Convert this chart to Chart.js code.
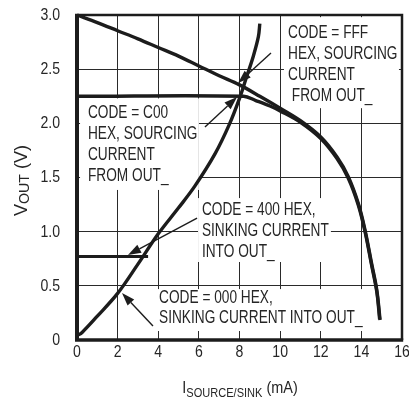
<!DOCTYPE html>
<html>
<head>
<meta charset="utf-8">
<script src="https://cdn.jsdelivr.net/npm/chart.js@4.4.1/dist/chart.umd.min.js"></script>
<style>
  html, body { margin: 0; padding: 0; background: #fff; }
  #wrap { width: 409px; height: 401px; }
</style>
</head>
<body>
<div id="wrap"><canvas id="chart" width="409" height="401"></canvas></div>
<script>
// --- data (I in mA, VOUT in V) ---
const fffCurrent = [0, 1, 2, 3, 4, 5, 6, 7, 8, 9, 10, 11, 12, 12.8, 13.35, 13.85, 14.18, 14.5, 14.76, 14.92];
const fffVout    = [3.0, 2.93, 2.855, 2.78, 2.70, 2.62, 2.53, 2.44, 2.355, 2.25, 2.14, 2.025, 1.875, 1.69, 1.51, 1.26, 1.015, 0.71, 0.46, 0.185];

const c00Current = [0, 8.2, 8.8, 9.5, 10, 11, 12, 12.8, 13.35, 13.85, 14.18, 14.5, 14.76, 14.9];
const c00Vout    = [2.25, 2.25, 2.21, 2.16, 2.115, 2.01, 1.86, 1.675, 1.495, 1.245, 1.0, 0.695, 0.445, 0.19];

const s000Current = [0, 0.25, 1, 2, 3, 4, 5, 5.8, 6.8, 7.5, 8.0, 8.35, 8.68, 8.93, 9.0];
const s000Vout    = [0.04, 0.07, 0.22, 0.43, 0.70, 0.98, 1.22, 1.42, 1.72, 1.99, 2.23, 2.43, 2.62, 2.8, 2.92];

const s400Current = [0, 3.5];
const s400Vout    = [0.77, 0.77];

const xTickLabels = ['0', '2', '4', '6', '8', '10', '12', '14', '16'];
const yTickLabels = ['0', '0.5', '1.0', '1.5', '2.0', '2.5', '3.0'];

// annotation texts
const c00Note  = ['CODE = C00', 'HEX, SOURCING', 'CURRENT', 'FROM OUT_'];
const fffNote  = ['CODE = FFF', 'HEX, SOURCING', 'CURRENT', ' FROM OUT_'];
const s400Note = ['CODE = 400 HEX,', 'SINKING CURRENT', 'INTO OUT_'];
const s000Note = ['CODE = 000 HEX,', 'SINKING CURRENT INTO OUT_'];

const FONT = "'Liberation Sans', Arial, sans-serif";
const INK = '#262626';
const LINE = '#1c1c1c';

const toPoints = (xs, ys) => xs.map((v, i) => ({ x: v, y: ys[i] }));

// boxes / arrows in data units: box [xmin, xmax, ytop, ybottom]
const notes = [
  { lines: c00Note,  at: [0.54, 2.095], lh: 21, box: [0.15, 6.0, 2.23, 1.385] },
  { lines: fffNote,  at: [10.39, 2.834], lh: 21, box: [10.19, 15.85, 2.98, 2.14] },
  { lines: s400Note, at: [6.15, 1.2],   lh: 21, box: [5.96, 12.5, 1.31, 0.72] },
  { lines: s000Note, at: [4.04, 0.388], lh: 20, box: [3.69, 14.13, 0.47, 0.083] }
];
const arrows = [
  { from: [6.3, 1.966], to: [7.88, 2.243] },
  { from: [9.55, 2.65], to: [7.93, 2.373] },
  { from: [5.91, 1.126], to: [2.51, 0.785] },
  { from: [3.74, 0.129], to: [2.215, 0.434] }
];

// text squeezed sideways to get the condensed look
function squeezed(ctx, str, x, y, size, sx, align) {
  ctx.save();
  ctx.font = size + 'px ' + FONT;
  ctx.translate(x, y);
  ctx.scale(sx, 1);
  ctx.textAlign = align;
  ctx.fillText(str, 0, 0);
  const w = ctx.measureText(str).width * sx;
  ctx.restore();
  return w;
}

const notesPlugin = {
  id: 'notes',
  beforeDatasetsDraw(chart) {
    const { ctx, chartArea: a, scales: { x, y } } = chart;
    ctx.save();
    // white boxes hide the grid behind the labels
    ctx.fillStyle = '#fff';
    notes.forEach(n => {
      const x0 = x.getPixelForValue(n.box[0]), x1 = x.getPixelForValue(n.box[1]);
      const y0 = y.getPixelForValue(n.box[2]), y1 = y.getPixelForValue(n.box[3]);
      ctx.fillRect(x0, y0, x1 - x0, y1 - y0);
    });
    // frame
    ctx.strokeStyle = LINE;
    ctx.lineWidth = 2.5;
    ctx.beginPath();
    ctx.moveTo(a.left, a.top); ctx.lineTo(a.right, a.top); ctx.lineTo(a.right, a.bottom);
    ctx.stroke();
    ctx.lineWidth = 4;
    ctx.beginPath();
    ctx.moveTo(a.left, a.top - 1.2); ctx.lineTo(a.left, a.bottom);
    ctx.stroke();
    ctx.lineWidth = 3.5;
    ctx.beginPath();
    ctx.moveTo(a.left - 2, a.bottom); ctx.lineTo(a.right + 1.2, a.bottom);
    ctx.stroke();
    // label text
    ctx.fillStyle = INK;
    ctx.textBaseline = 'middle';
    notes.forEach(n => {
      const px = x.getPixelForValue(n.at[0]), py = y.getPixelForValue(n.at[1]);
      n.lines.forEach((t, i) => squeezed(ctx, t, px, py + i * n.lh, 18, 0.76, 'left'));
    });
    // tick labels
    x.ticks.forEach((t, i) => squeezed(ctx, xTickLabels[i], x.getPixelForValue(t.value), 353, 16, 0.88, 'center'));
    y.ticks.forEach((t, i) => squeezed(ctx, yTickLabels[i], 60, y.getPixelForValue(t.value) + 0.5, 16, 0.88, 'right'));
    ctx.restore();
  },
  afterDatasetsDraw(chart) {
    const { ctx, scales: { x, y } } = chart;
    ctx.save();
    ctx.strokeStyle = LINE;
    ctx.fillStyle = LINE;
    ctx.lineWidth = 1.4;
    arrows.forEach(ar => {
      const x0 = x.getPixelForValue(ar.from[0]), y0 = y.getPixelForValue(ar.from[1]);
      const x1 = x.getPixelForValue(ar.to[0]), y1 = y.getPixelForValue(ar.to[1]);
      const ang = Math.atan2(y1 - y0, x1 - x0);
      const len = 13, half = 4.5;
      const bx = x1 - len * Math.cos(ang), by = y1 - len * Math.sin(ang);
      ctx.beginPath();
      ctx.moveTo(x0, y0); ctx.lineTo(bx, by);
      ctx.stroke();
      ctx.beginPath();
      ctx.moveTo(x1, y1);
      ctx.lineTo(bx + half * Math.sin(ang), by - half * Math.cos(ang));
      ctx.lineTo(bx - half * Math.sin(ang), by + half * Math.cos(ang));
      ctx.closePath();
      ctx.fill();
    });
    ctx.restore();
  },
  afterDraw(chart) {
    const { ctx, chartArea: a } = chart;
    ctx.save();
    ctx.fillStyle = INK;
    ctx.textBaseline = 'alphabetic';
    // x title: I SOURCE/SINK (mA)
    const sx = 0.85;
    ctx.font = '17px ' + FONT; const wI = ctx.measureText('I').width * sx, wU = ctx.measureText(' (mA)').width * sx;
    ctx.font = '13px ' + FONT; const wS = ctx.measureText('SOURCE/SINK').width * sx;
    let px = 240 - (wI + wS + wU) / 2;
    px += squeezed(ctx, 'I', px, 393, 17, sx, 'left');
    px += squeezed(ctx, 'SOURCE/SINK', px, 397, 13, sx, 'left');
    squeezed(ctx, ' (mA)', px, 393, 17, sx, 'left');
    // y title: V OUT (V), rotated
    ctx.translate(27, (a.top + a.bottom) / 2 + 3);
    ctx.rotate(-Math.PI / 2);
    const sy = 0.95;
    ctx.font = '19px ' + FONT; const wV = ctx.measureText('V').width * sy, wP = ctx.measureText(' (V)').width * sy;
    ctx.font = '15px ' + FONT; const wO = ctx.measureText('OUT').width * sy;
    let ty = -(wV + wO + wP) / 2;
    ty += squeezed(ctx, 'V', ty, 0, 19, sy, 'left');
    ty += squeezed(ctx, 'OUT', ty, 2, 15, sy, 'left');
    squeezed(ctx, ' (V)', ty, 0, 19, sy, 'left');
    ctx.restore();
  }
};

const lineStyle = {
  showLine: true,
  borderColor: LINE,
  borderWidth: 3.4,
  pointRadius: 0,
  fill: false,
  tension: 0.35
};

new Chart(document.getElementById('chart').getContext('2d'), {
  type: 'scatter',
  data: {
    datasets: [
      { label: 'CODE = FFF', data: toPoints(fffCurrent, fffVout), ...lineStyle },
      { label: 'CODE = C00', data: toPoints(c00Current, c00Vout), ...lineStyle },
      { label: 'CODE = 000', data: toPoints(s000Current, s000Vout), ...lineStyle },
      { label: 'CODE = 400', data: toPoints(s400Current, s400Vout), ...lineStyle, borderWidth: 3 }
    ]
  },
  options: {
    responsive: false,
    animation: false,
    layout: { padding: { top: 15, right: 7, left: 0, bottom: 0 } },
    plugins: { legend: { display: false }, tooltip: { enabled: false } },
    scales: {
      x: {
        type: 'linear', min: 0, max: 16,
        afterFit: s => { s.height = 61; },
        border: { display: false },
        grid: { color: '#2a2a2a', lineWidth: 1, drawTicks: false },
        ticks: { stepSize: 2, display: false }
      },
      y: {
        type: 'linear', min: 0, max: 3,
        afterFit: s => { s.width = 77; },
        border: { display: false },
        grid: { color: '#2a2a2a', lineWidth: 1, drawTicks: false },
        ticks: { stepSize: 0.5, display: false }
      }
    }
  },
  plugins: [notesPlugin]
});
</script>
</body>
</html>
